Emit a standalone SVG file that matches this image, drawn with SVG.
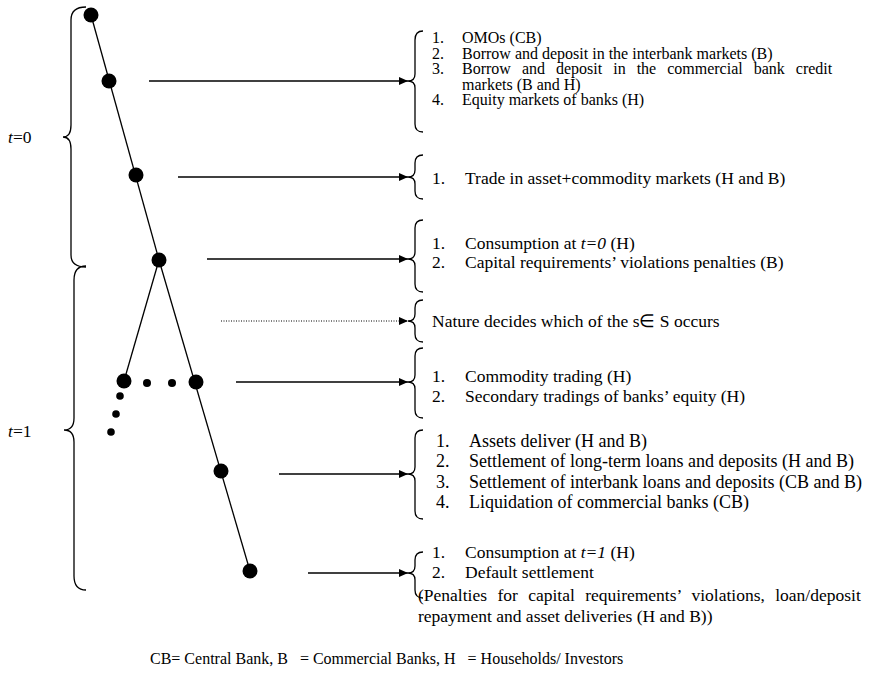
<svg xmlns="http://www.w3.org/2000/svg" width="877" height="676" viewBox="0 0 877 676">
<style>
text{font-family:"Liberation Serif","Times New Roman",serif;font-size:17.5px;fill:#000;white-space:pre}
.b1{font-size:16px}
.b6{font-size:18px}
.lg{font-size:16px}
.it{font-style:italic}
.br{fill:none;stroke:#000;stroke-width:1.3}
.ln{stroke:#000;stroke-width:1.3;fill:none}
.ar{stroke:#000;stroke-width:1.3;fill:none;marker-end:url(#ah)}
.dt{stroke:#000;stroke-width:1;fill:none;stroke-dasharray:1 1.5;marker-end:url(#ah)}
</style>
<defs>
<marker id="ah" markerWidth="10" markerHeight="10" refX="9" refY="5" orient="auto" markerUnits="userSpaceOnUse">
<path d="M0,1 L9,5 L0,9 Z" fill="#000"/>
</marker>
</defs>
<rect width="877" height="676" fill="#fff"/>

<g id="time-braces">
<path class="br" d="M86,7 Q71,7 71,20 L71,125 Q71,137 63,137 Q71,137 71,149 L71,255 Q71,267 86,267"/>
<path class="br" d="M86,266 Q74,266 74,280 L74,418 Q74,430 64,430 Q74,430 74,442 L74,576 Q74,590 86,590"/>
<text x="8" y="143"><tspan class="it">t</tspan>=0</text>
<text x="8" y="437"><tspan class="it">t</tspan>=1</text>
</g>

<g id="tree">
<path class="ln" d="M91,15 L159,260"/>
<path class="ln" d="M159,260 L124,381"/>
<path class="ln" d="M159,260 L250,571"/>
<circle id="n0" cx="91" cy="15" r="7.5"/>
<circle id="n1" cx="109" cy="81" r="7.5"/>
<circle id="n2" cx="136" cy="175" r="7.5"/>
<circle id="n3" cx="159" cy="260" r="7.5"/>
<circle id="n4" cx="124" cy="381" r="7.5"/>
<circle id="n5" cx="196" cy="382" r="7.5"/>
<circle id="n6" cx="221" cy="471" r="7.5"/>
<circle id="n7" cx="250" cy="571" r="7.5"/>
<circle cx="147" cy="383" r="4"/>
<circle cx="172" cy="383" r="4"/>
<circle cx="120" cy="396" r="3.8"/>
<circle cx="116" cy="414" r="3.8"/>
<circle cx="111" cy="432" r="3.8"/>
</g>

<g id="connectors">
<line class="ar" x1="149" y1="81" x2="408" y2="81"/>
<line class="ar" x1="178" y1="177" x2="408" y2="177"/>
<line class="ar" x1="207" y1="259" x2="408" y2="259"/>
<line class="dt" x1="221" y1="321" x2="408" y2="321"/>
<line class="ar" x1="236" y1="382" x2="408" y2="382"/>
<line class="ar" x1="279" y1="474" x2="408" y2="474"/>
<line class="ar" x1="308" y1="573" x2="408" y2="573"/>
</g>

<g id="block1">
<path class="br" d="M423,31 Q415,31 415,40 L415,74 Q415,81 408,81 Q415,81 415,88 L415,124 Q415,132 423,132"/>
<text class="b1" x="432" y="43">1.</text><text class="b1" x="462" y="43">OMOs (CB)</text>
<text class="b1" x="432" y="58.5">2.</text><text class="b1" x="462" y="58.5">Borrow and deposit in the interbank markets (B)</text>
<text class="b1" x="432" y="74">3.</text><text class="b1" x="462" y="74" word-spacing="7">Borrow and deposit in the commercial bank credit</text>
<text class="b1" x="462" y="89.5">markets (B and H)</text>
<text class="b1" x="432" y="105">4.</text><text class="b1" x="462" y="105">Equity markets of banks (H)</text>
</g>

<g id="block2">
<path class="br" d="M423,155 Q415,155 415,163 L415,170 Q415,177 408,177 Q415,177 415,184 L415,191 Q415,199 423,199"/>
<text x="432" y="184">1.</text><text x="465" y="184">Trade in asset+commodity markets (H and B)</text>
</g>

<g id="block3">
<path class="br" d="M423,220 Q415,220 415,228 L415,252 Q415,259 408,259 Q415,259 415,266 L415,284 Q415,292 423,292"/>
<text x="432" y="249">1.</text><text x="465" y="249">Consumption at <tspan class="it">t=0</tspan> (H)</text>
<text x="432" y="268">2.</text><text x="465" y="268">Capital requirements’ violations penalties (B)</text>
</g>

<g id="block4">
<path class="br" d="M423,300 Q415,300 415,308 L415,314 Q415,321 408,321 Q415,321 415,328 L415,334 Q415,342 423,342"/>
<text x="432" y="327">Nature decides which of the s∈ S occurs</text>
</g>

<g id="block5">
<path class="br" d="M423,348 Q415,348 415,356 L415,375 Q415,382 408,382 Q415,382 415,389 L415,410 Q415,418 423,418"/>
<text x="432" y="382">1.</text><text x="465" y="382">Commodity trading (H)</text>
<text x="432" y="402">2.</text><text x="465" y="402">Secondary tradings of banks’ equity (H)</text>
</g>

<g id="block6">
<path class="br" d="M423,430 Q415,430 415,438 L415,467 Q415,474 408,474 Q415,474 415,481 L415,511 Q415,519 423,519"/>
<text class="b6" x="436" y="447">1.</text><text class="b6" x="469" y="447">Assets deliver (H and B)</text>
<text class="b6" x="436" y="467">2.</text><text class="b6" x="469" y="467">Settlement of long-term loans and deposits (H and B)</text>
<text class="b6" x="436" y="488">3.</text><text class="b6" x="469" y="488">Settlement of interbank loans and deposits (CB and B)</text>
<text class="b6" x="436" y="508">4.</text><text class="b6" x="469" y="508">Liquidation of commercial banks (CB)</text>
</g>

<g id="block7">
<path class="br" d="M423,552 Q415,552 415,560 L415,566 Q415,573 408,573 Q415,573 415,580 L415,590 Q415,598 423,598"/>
<text x="432" y="558">1.</text><text x="465" y="558">Consumption at <tspan class="it">t=1</tspan> (H)</text>
<text x="432" y="578">2.</text><text x="465" y="578">Default settlement</text>
<text x="418" y="601" word-spacing="6">(Penalties for capital requirements’ violations, loan/deposit</text>
<text x="418" y="622">repayment and asset deliveries (H and B))</text>
</g>

<g id="legend">
<text class="lg" x="150" y="664">CB= Central Bank, B   = Commercial Banks, H   = Households/ Investors</text>
</g>
</svg>
